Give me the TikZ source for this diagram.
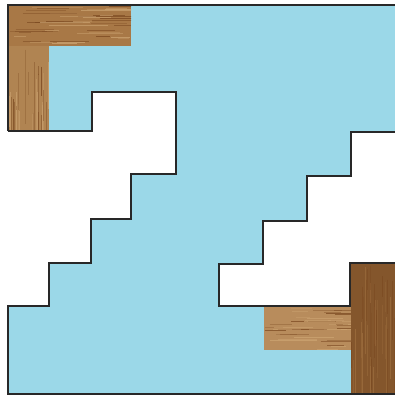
\documentclass[tikz,border=0pt]{standalone}
\definecolor{skyb}{RGB}{155,216,232}
\definecolor{woodA}{RGB}{168,120,70}
\definecolor{woodB}{RGB}{176,132,82}
\definecolor{woodC}{RGB}{132,86,44}
\definecolor{woodD}{RGB}{184,140,92}
\definecolor{grainDark}{RGB}{120,70,30}
\definecolor{grainLight}{RGB}{205,165,115}
\definecolor{edge}{RGB}{40,40,40}
\tikzset{
  outline/.style={draw=edge, line width=1.4pt, line join=miter},
  grainline/.style={line width=0.6pt},
}
\begin{document}
\begin{tikzpicture}[x=1pt,y=-1pt]
\useasboundingbox (0,0) rectangle (395,397);
% blue board
\fill[skyb] (8,5) rectangle (395,394);
% white stair cut-outs
\fill[white] (8,131) -- (92,131) -- (92,92) -- (176,92) -- (176,174) -- (131,174) -- (131,219) -- (91,219) -- (91,263) -- (49,263) -- (49,306) -- (8,306) -- cycle;
\fill[white] (395,132) -- (351,132) -- (351,176) -- (307,176) -- (307,221) -- (263,221) -- (263,264) -- (219,264) -- (219,306) -- (350,306) -- (350,263) -- (395,263) -- cycle;
% wood pieces
\pgfmathsetseed{7}
% top-left horizontal bar
\begin{scope}
  \clip (8,5) rectangle (131,46);
  \fill[woodA] (8,5) rectangle (131,46);
  \foreach \i in {1,...,45} {
    \pgfmathsetmacro\yy{5+41*rnd}
    \pgfmathsetmacro\xa{8+110*rnd}
    \pgfmathsetmacro\ln{10+50*rnd}
    \pgfmathsetmacro\op{0.25+0.5*rnd}
    \ifodd\i
      \draw[grainline, grainDark, opacity=\op] (\xa,\yy) -- ++(\ln,0);
    \else
      \draw[grainline, grainLight, opacity=\op] (\xa,\yy) -- ++(\ln,0);
    \fi
  }
\end{scope}
% top-left vertical bar
\begin{scope}
  \clip (8,46) rectangle (49,131);
  \fill[woodB] (8,46) rectangle (49,131);
  \foreach \i in {1,...,30} {
    \pgfmathsetmacro\xx{8+41*rnd}
    \pgfmathsetmacro\ya{46+70*rnd}
    \pgfmathsetmacro\ln{20+60*rnd}
    \pgfmathsetmacro\op{0.25+0.5*rnd}
    \ifodd\i
      \draw[grainline, grainDark, opacity=\op] (\xx,\ya) -- ++(0,\ln);
    \else
      \draw[grainline, grainLight, opacity=\op] (\xx,\ya) -- ++(0,\ln);
    \fi
  }
\end{scope}
% bottom-right horizontal bar
\begin{scope}
  \clip (264,306) rectangle (351,350);
  \fill[woodD] (264,306) rectangle (351,350);
  \foreach \i in {1,...,40} {
    \pgfmathsetmacro\yy{306+44*rnd}
    \pgfmathsetmacro\xa{264+80*rnd}
    \pgfmathsetmacro\ln{10+40*rnd}
    \pgfmathsetmacro\op{0.25+0.5*rnd}
    \ifodd\i
      \draw[grainline, grainDark, opacity=\op] (\xa,\yy) -- ++(\ln,0);
    \else
      \draw[grainline, grainLight, opacity=\op] (\xa,\yy) -- ++(\ln,0);
    \fi
  }
\end{scope}
% bottom-right vertical bar
\begin{scope}
  \clip (351,263) rectangle (395,394);
  \fill[woodC] (351,263) rectangle (395,394);
  \foreach \i in {1,...,35} {
    \pgfmathsetmacro\xx{351+44*rnd}
    \pgfmathsetmacro\ya{263+110*rnd}
    \pgfmathsetmacro\ln{20+70*rnd}
    \pgfmathsetmacro\op{0.2+0.4*rnd}
    \ifodd\i
      \draw[grainline, grainDark, opacity=\op] (\xx,\ya) -- ++(0,\ln);
    \else
      \draw[grainline, woodA, opacity=\op] (\xx,\ya) -- ++(0,\ln);
    \fi
  }
\end{scope}
% outlines
\draw[outline] (8,131) -- (8,5) -- (395,5);
\draw[outline] (8,131) -- (92,131) -- (92,92) -- (176,92) -- (176,174) -- (131,174) -- (131,219) -- (91,219) -- (91,263) -- (49,263) -- (49,306) -- (8,306) -- (8,394) -- (395,394);
\draw[outline] (395,132) -- (351,132) -- (351,176) -- (307,176) -- (307,221) -- (263,221) -- (263,264) -- (219,264) -- (219,306) -- (350,306) -- (350,263) -- (395,263);
\end{tikzpicture}
\end{document}
